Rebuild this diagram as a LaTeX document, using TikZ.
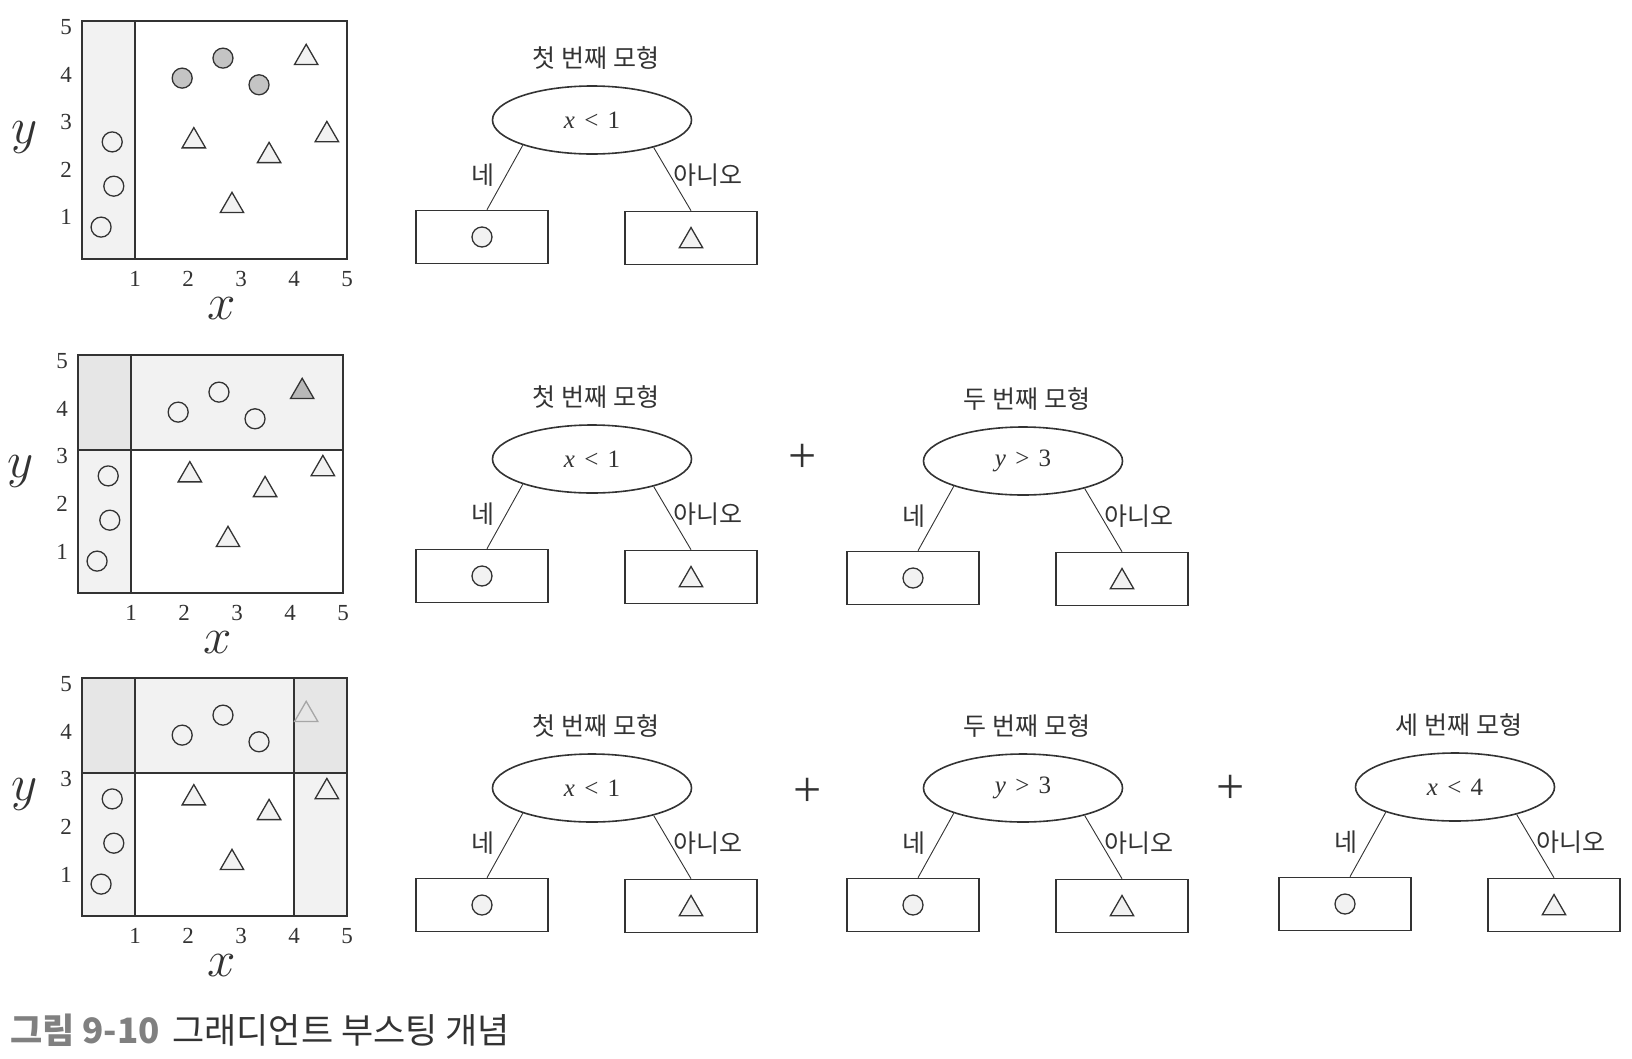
\documentclass[tikz,border=0pt]{standalone}
\usepackage{fix-cm}
\usepackage{fontspec}
\newfontfamily\kr{Noto Sans CJK KR}
\newfontfamily\tkf{Liberation Serif}
\usetikzlibrary{shapes.geometric,calc}
\definecolor{ln}{HTML}{333333}
\definecolor{lf}{HTML}{F2F2F2}
\definecolor{sa}{HTML}{F2F2F2}
\definecolor{sb}{HTML}{E6E6E6}
\definecolor{dk}{HTML}{C4C4C4}
\definecolor{dt}{HTML}{B8B8B8}
\definecolor{capg}{HTML}{808080}
\definecolor{txt}{HTML}{333333}
\newcommand\rel[1]{\hspace{0.12em}#1\hspace{0.12em}}
\tikzset{
 dot/.style={circle,draw=ln,line width=1.3pt,fill=lf,minimum size=20pt,inner sep=0pt},
 tri/.style={regular polygon,regular polygon sides=3,draw=ln,line width=1.3pt,fill=lf,minimum size=27pt,inner sep=0pt,yshift=-3pt},
 frame/.style={draw=ln,line width=1.8pt},
 ticklbl/.style={font=\tkf\fontsize{23}{23}\selectfont,text=txt,inner sep=0pt},
 axl/.style={font=\fontsize{51}{51}\selectfont,text=txt,inner sep=0pt},
 cond/.style={ellipse,draw=ln,line width=1.6pt,minimum width=199pt,minimum height=68pt,inner sep=0pt,font=\tkf\fontsize{25}{25}\selectfont,text=txt},
 leaf/.style={rectangle,draw=ln,line width=1.6pt,minimum width=132pt,minimum height=53pt,inner sep=0pt},
 ttl/.style={font=\kr\fontsize{25}{25}\selectfont,text=txt,inner sep=0pt},
 lbl/.style={font=\kr\fontsize{25}{25}\selectfont,text=txt,inner sep=0pt},
 edge/.style={draw=ln,line width=0.9pt},
 plus/.style={font=\tkf\fontsize{50}{50}\selectfont,text=txt,inner sep=0pt},
}
\newcommand\points[3]{%
 \node[dot,#2] (#1c1) at (1.89,3.80) {};
 \node[dot,#2] (#1c2) at (2.66,4.22) {};
 \node[dot,#2] (#1c3) at (3.34,3.66) {};
 \node[dot] (#1c4) at (0.57,2.46) {};
 \node[dot] (#1c5) at (0.60,1.53) {};
 \node[dot] (#1c6) at (0.36,0.67) {};
 \node[tri,#3] (#1t1) at (4.23,4.29) {};
 \node[tri] (#1t2) at (2.11,2.54) {};
 \node[tri] (#1t3) at (4.62,2.67) {};
 \node[tri] (#1t4) at (3.53,2.23) {};
 \node[tri] (#1t5) at (2.83,1.18) {};
 \foreach \i in {1,...,5} {
  \node[ticklbl] (#1x\i) at (\i,0) [yshift=-20pt] {\i};
  \node[ticklbl] (#1y\i) at (0,\i) [xshift=-16pt,yshift=-6pt] {\i};
 }
 \node[axl] (#1xl) at (2.64,0) [yshift=-50pt] {$x$};
 \node[axl] (#1yl) at (-1.09,2.56) {$y$};
}
\newcommand\tree[5]{%
 \node[cond] (#1e) at (#2,#3) {#5};
 \node[ttl] (#1t) at (#2+4,#3-62) {#4};
 \node[leaf] (#1l) at (#2-110,#3+117) {};
 \node[leaf] (#1r) at (#2+99,#3+118) {};
 \node[dot] (#1lc) at (#1l) {};
 \node[tri] (#1rt) at (#1r) {};
 \draw[edge] (#1e.200) -- ($(#1l.north)+(5,0)$);
 \draw[edge] (#1e.336) -- (#1r.north);
 \node[lbl] (#1yes) at (#2-109,#3+55) {네};
 \node[lbl] (#1no) at (#2+116,#3+55) {아니오};
}
\begin{document}
\begin{tikzpicture}[x=1pt,y=-1pt]
\useasboundingbox[fill=white] (0,0) rectangle (1632,1058);
% plot 1
\begin{scope}[shift={(82,259)},x=53pt,y=47.6pt]
 \fill[sa] (0,0) rectangle (1,5);
 \draw[frame] (0,0) rectangle (5,5);
 \draw[frame] (1,0) -- (1,5);
 \points{a}{fill=dk}{}
\end{scope}
% plot 2
\begin{scope}[shift={(78,593)},x=53pt,y=47.6pt]
 \fill[sa] (0,0) rectangle (1,3);
 \fill[sa] (1,3) rectangle (5,5);
 \fill[sb] (0,3) rectangle (1,5);
 \draw[frame] (0,0) rectangle (5,5);
 \draw[frame] (1,0) -- (1,5);
 \draw[frame] (0,3) -- (5,3);
 \points{b}{}{fill=dt}
\end{scope}
% plot 3
\begin{scope}[shift={(82,916)},x=53pt,y=47.6pt]
 \fill[sa] (0,0) rectangle (1,3);
 \fill[sa] (4,0) rectangle (5,3);
 \fill[sa] (1,3) rectangle (4,5);
 \fill[sb] (0,3) rectangle (1,5);
 \fill[sb] (4,3) rectangle (5,5);
 \draw[frame] (0,0) rectangle (5,5);
 \draw[frame] (1,0) -- (1,5);
 \draw[frame] (4,0) -- (4,5);
 \draw[frame] (0,3) -- (5,3);
 \points{c}{}{draw=gray!70,fill=sb}
\end{scope}
% trees
\tree{ra}{592}{120}{첫 번째 모형}{\textit{x} \rel{<} 1}
\tree{rba}{592}{459}{첫 번째 모형}{\textit{x} \rel{<} 1}
\node[plus] (pb1) at (803,458) {+};
\tree{rbb}{1023}{461}{두 번째 모형}{\textit{y} \rel{>} 3}
\tree{rca}{592}{788}{첫 번째 모형}{\textit{x} \rel{<} 1}
\node[plus] (pc1) at (808,792) {+};
\tree{rcb}{1023}{788}{두 번째 모형}{\textit{y} \rel{>} 3}
\node[plus] (pc2) at (1231,789) {+};
\tree{rcc}{1455}{787}{세 번째 모형}{\textit{x} \rel{<} 4}
% caption
\node[anchor=west,font=\kr\bfseries\fontsize{35}{35}\selectfont,text=capg,inner sep=0pt] (cap1) at (10,1030) {그림 9-10};
\node[anchor=west,font=\kr\fontsize{35}{35}\selectfont,text=txt,inner sep=0pt] (cap2) at (172,1030) {그래디언트 부스팅 개념};
\end{tikzpicture}
\end{document}
